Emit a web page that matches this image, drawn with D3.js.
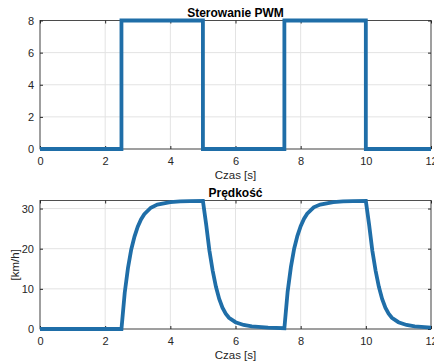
<!DOCTYPE html>
<html>
<head>
<meta charset="utf-8">
<script src="https://cdn.jsdelivr.net/npm/d3@7"></script>
<style>
  html, body { margin: 0; padding: 0; background: #fff; }
  svg { display: block; font-family: "Liberation Sans", Arial, sans-serif; }
  .tick text { fill: #262626; font-size: 11px; }
  .domain { display: none; }
  .tick line { stroke: #262626; }
  .grid line { stroke: #e3e3e3; stroke-width: 1; }
  .title { font-weight: bold; font-size: 12px; fill: #000; }
  .axisText { font-size: 11.5px; fill: #262626; }
</style>
</head>
<body>
<svg id="chart" width="434" height="362"></svg>
<script>
// PWM control signal (Sterowanie PWM)
const pwmTime  = [0, 2.5, 2.5, 5, 5, 7.5, 7.5, 10, 10, 12];
const pwmValue = [0, 0,   8,   8, 0, 0,   8,   8,  0,  0];

// speed (Prędkość), km/h
const speedTime = [
  0, 2.5, 2.6, 2.7, 2.8, 2.9, 3.0, 3.1, 3.2, 3.4, 3.6, 4.0, 4.3, 4.6, 5.0,
  5.1, 5.2, 5.3, 5.4, 5.5, 5.6, 5.7, 5.8, 6.0, 6.25, 6.5, 7.0, 7.5,
  7.6, 7.7, 7.8, 7.9, 8.0, 8.1, 8.2, 8.4, 8.6, 9.0, 9.3, 9.6, 10.0,
  10.1, 10.2, 10.3, 10.4, 10.5, 10.6, 10.7, 10.8, 11.0, 11.25, 11.5, 12.0
];
const speedValue = [
  0, 0, 9.0, 15.2, 19.8, 23.0, 25.5, 27.3, 28.6, 30.2, 31.0, 31.6, 31.8, 31.85, 31.9,
  26.0, 19.5, 14.5, 10.5, 7.5, 5.3, 3.8, 2.8, 1.7, 1.0, 0.65, 0.35, 0.2,
  9.3, 15.4, 20.0, 23.2, 25.6, 27.4, 28.7, 30.3, 31.0, 31.6, 31.8, 31.85, 31.9,
  26.0, 19.5, 14.5, 10.5, 7.5, 5.3, 3.8, 2.8, 1.7, 1.0, 0.65, 0.35, 0.2
];

const xTicks = [0, 2, 4, 6, 8, 10, 12];
const pwmTicks = [0, 2, 4, 6, 8];
const speedTicks = [0, 10, 20, 30];

const LINE_COLOR = '#1f6ea8';
const svg = d3.select('#chart');

function drawPanel(opts) {
  const { left, right, top, bottom, xs, ys, yDomain, yTicks, title, yLabel } = opts;
  const w = right - left, h = bottom - top;
  const x = d3.scaleLinear().domain([0, 12]).range([0, w]);
  const y = d3.scaleLinear().domain(yDomain).range([h, 0]);

  const g = svg.append('g').attr('transform', `translate(${left},${top})`);

  // grid
  const grid = g.append('g').attr('class', 'grid');
  grid.selectAll('line.gx').data(xTicks).enter().append('line')
    .attr('x1', d => x(d)).attr('x2', d => x(d)).attr('y1', 0).attr('y2', h);
  grid.selectAll('line.gy').data(yTicks).enter().append('line')
    .attr('x1', 0).attr('x2', w).attr('y1', d => y(d)).attr('y2', d => y(d));

  // box
  g.append('rect').attr('width', w).attr('height', h)
    .attr('fill', 'none').attr('stroke', '#262626').attr('stroke-width', 0.8);

  // axes, ticks pointing inward
  g.append('g').attr('transform', `translate(0,${h})`)
    .call(d3.axisBottom(x).tickValues(xTicks).tickSize(-3).tickPadding(8))
    .selectAll('text').attr('dy', '0.71em');
  g.append('g')
    .call(d3.axisTop(x).tickValues(xTicks).tickSize(-3).tickFormat(''));
  g.append('g')
    .call(d3.axisLeft(y).tickValues(yTicks).tickSize(-3).tickPadding(6));
  g.append('g').attr('transform', `translate(${w},0)`)
    .call(d3.axisRight(y).tickValues(yTicks).tickSize(-3).tickFormat(''));

  // data line
  const line = d3.line().x(i => x(xs[i])).y(i => y(ys[i]));
  g.append('path')
    .datum(d3.range(xs.length))
    .attr('d', line)
    .attr('fill', 'none')
    .attr('stroke', LINE_COLOR)
    .attr('stroke-width', 3.8)
    .attr('stroke-linejoin', 'miter');

  // title
  g.append('text').attr('class', 'title')
    .attr('x', w / 2).attr('y', -4)
    .attr('text-anchor', 'middle')
    .text(title);

  // x label
  g.append('text').attr('class', 'axisText')
    .attr('x', w / 2).attr('y', h + 30)
    .attr('text-anchor', 'middle')
    .text('Czas [s]');

  // y label
  if (yLabel) {
    g.append('text').attr('class', 'axisText')
      .attr('transform', `translate(${-21},${h / 2}) rotate(-90)`)
      .attr('text-anchor', 'middle')
      .text(yLabel);
  }
}

drawPanel({
  left: 40, right: 431, top: 20.5, bottom: 149,
  xs: pwmTime, ys: pwmValue, yDomain: [0, 8], yTicks: pwmTicks,
  title: 'Sterowanie PWM'
});

drawPanel({
  left: 40, right: 431, top: 200.5, bottom: 329,
  xs: speedTime, ys: speedValue, yDomain: [0, 32], yTicks: speedTicks,
  title: 'Prędkość', yLabel: '[km/h]'
});
</script>
</body>
</html>
